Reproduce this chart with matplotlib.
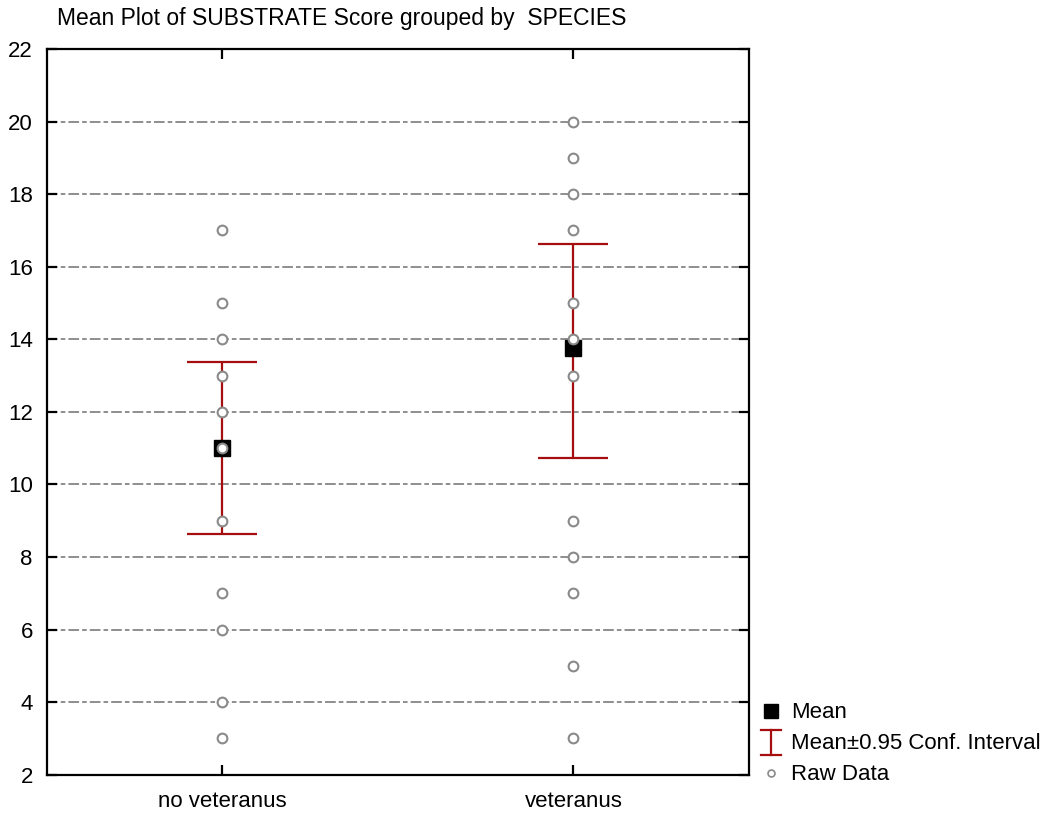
import matplotlib
matplotlib.use("Agg")
import matplotlib.pyplot as plt
from matplotlib.lines import Line2D
from matplotlib.legend_handler import HandlerBase

plt.rcParams['font.family'] = ['Liberation Sans', 'DejaVu Sans']

categories = ["no veteranus", "veteranus"]
means = [11.0, 13.75]
ci_low = [8.62, 10.72]
ci_high = [13.36, 16.62]
raw_no_veteranus = [17, 15, 14, 13, 12, 11, 9, 7, 6, 4, 3]
raw_veteranus = [20, 19, 18, 17, 15, 14, 13, 9, 8, 7, 5, 3]
raw_data = [raw_no_veteranus, raw_veteranus]
y_ticks = [2, 4, 6, 8, 10, 12, 14, 16, 18, 20, 22]

CI_COLOR = '#a50f0f'
RAW_EDGE = '#8a8a8a'

fig = plt.figure(figsize=(10.5, 8.16), dpi=100)
ax = fig.add_axes([0.0445, 0.0506, 0.6688, 0.8894])

xs = list(range(len(categories)))
for g in y_ticks[1:-1]:
    ax.axhline(g, color='#707070', lw=1.1, ls=(0, (7, 2, 3, 2)), zorder=1)

err_lo = [m - l for m, l in zip(means, ci_low)]
err_hi = [h - m for m, h in zip(means, ci_high)]
ax.errorbar(xs, means, yerr=[err_lo, err_hi], fmt='none', ecolor=CI_COLOR,
            elinewidth=1.6, capsize=25, capthick=1.6, zorder=3)
ax.plot(xs, means, ls='none', marker='s', ms=11.5, mfc='black', mec='black',
        zorder=4)
for x, vals in zip(xs, raw_data):
    ax.plot([x] * len(vals), vals, ls='none', marker='o', ms=7, mfc='white',
            mec=RAW_EDGE, mew=1.5, zorder=5)

ax.set_xlim(-0.5, 1.5)
ax.set_ylim(2, 22)
ax.set_yticks(y_ticks)
ax.set_xticks(xs)
ax.set_xticklabels(categories)
ax.tick_params(axis='both', direction='in', length=7, width=1.6, labelsize=16,
               top=True, right=True, colors='black')
ax.tick_params(axis='x', pad=12)
ax.tick_params(axis='y', pad=10)
for s in ax.spines.values():
    s.set_linewidth(1.6)
    s.set_color('black')

fig.text(0.054, 0.977, "Mean Plot of SUBSTRATE Score grouped by  SPECIES",
         fontsize=16.5, ha='left', va='center')


class CIHandle:
    pass


class HandlerCI(HandlerBase):
    def create_artists(self, legend, orig_handle, xdescent, ydescent, width,
                       height, fontsize, trans):
        cx = width / 2 - xdescent
        top = height * 1.25
        bot = -height * 0.35
        hw = width * 0.5
        lw = 1.6
        a = Line2D([cx, cx], [bot, top], color=CI_COLOR, lw=lw, transform=trans)
        b = Line2D([cx - hw, cx + hw], [top, top], color=CI_COLOR, lw=lw, transform=trans)
        c = Line2D([cx - hw, cx + hw], [bot, bot], color=CI_COLOR, lw=lw, transform=trans)
        return [a, b, c]


handles = [
    Line2D([], [], ls='none', marker='s', ms=10, mfc='black', mec='black'),
    CIHandle(),
    Line2D([], [], ls='none', marker='o', ms=5, mfc='white', mec=RAW_EDGE, mew=1.2),
]
labels = ['Mean', 'Mean\u00b10.95 Conf. Interval', 'Raw Data']
leg = ax.legend(handles, labels, loc='lower left', bbox_to_anchor=(1.004, -0.027),
                frameon=False, fontsize=16, handlelength=0.9, handletextpad=0.45,
                labelspacing=0.45, borderaxespad=0.0,
                handler_map={CIHandle: HandlerCI()})

fig.savefig("out.png", dpi=100)
